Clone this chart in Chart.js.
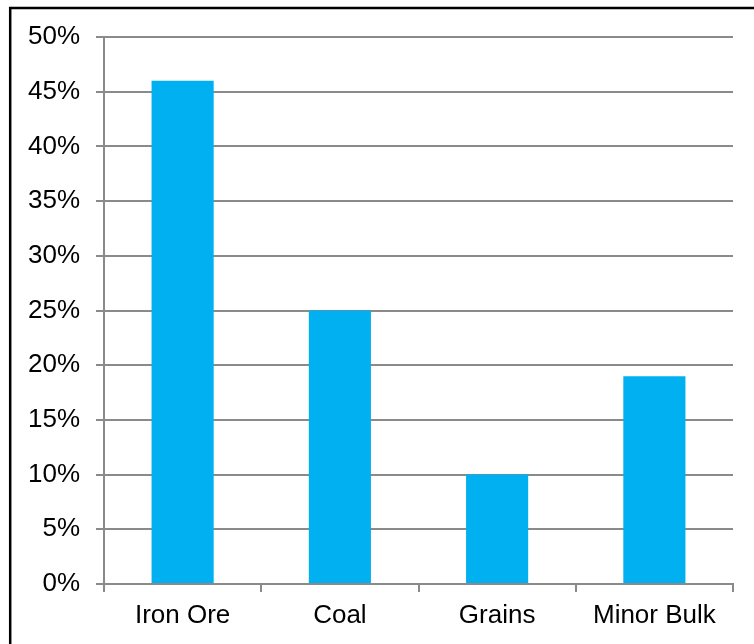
<!DOCTYPE html>
<html>
<head>
<meta charset="utf-8">
<title>Dry Bulk Cargo Share</title>
<script src="https://cdn.jsdelivr.net/npm/chart.js@4"></script>
<style>
  html, body { margin: 0; padding: 0; background: #ffffff; }
  canvas { display: block; }
</style>
</head>
<body>
<canvas id="chart" width="754" height="644"></canvas>
<script>
// Cargo categories and their share of dry bulk trade (percent)
const categories = ['Iron Ore', 'Coal', 'Grains', 'Minor Bulk'];
const shareValues = [46, 25, 10, 19];
const yTickStep = 5;
const yMax = 50;

const FONT = '"Liberation Sans", Arial, Helvetica, sans-serif';
const GRID = '#8a8a8a';

// Frame drawn around the whole chart, running off the right and bottom edges
const framePlugin = {
  id: 'frame',
  beforeDraw(chart) {
    const ctx = chart.ctx;
    ctx.save();
    ctx.fillStyle = '#ffffff';
    ctx.fillRect(0, 0, chart.width, chart.height);
    ctx.restore();
  },
  afterDraw(chart) {
    const ctx = chart.ctx;
    ctx.save();
    ctx.strokeStyle = '#000000';
    ctx.lineWidth = 2.5;
    ctx.strokeRect(10.2, 8, chart.width + 50, chart.height + 50);
    ctx.restore();
  }
};

new Chart(document.getElementById('chart'), {
  type: 'bar',
  data: {
    labels: categories,
    datasets: [{
      data: shareValues,
      backgroundColor: '#00B0F0',
      borderWidth: 0,
      barPercentage: 0.395,
      categoryPercentage: 1.0
    }]
  },
  options: {
    responsive: false,
    animation: false,
    devicePixelRatio: 1,
    layout: { padding: { top: 37, right: 21, bottom: 0, left: 0 } },
    plugins: {
      legend: { display: false },
      tooltip: { enabled: false }
    },
    scales: {
      x: {
        type: 'category',
        offset: true,
        grid: {
          offset: true,
          drawOnChartArea: false,
          drawTicks: true,
          tickLength: 8,
          color: GRID,
          lineWidth: 2
        },
        border: { display: true, color: GRID, width: 2 },
        ticks: {
          color: '#000000',
          padding: 8,
          maxRotation: 0,
          font: { family: FONT, size: 26 }
        },
        afterFit(scale) { scale.height = 60; }
      },
      y: {
        min: 0,
        max: yMax,
        grid: {
          color: GRID,
          lineWidth: 2,
          drawTicks: true,
          tickLength: 8
        },
        border: { display: true, color: GRID, width: 2 },
        ticks: {
          stepSize: yTickStep,
          color: '#000000',
          padding: 16,
          font: { family: FONT, size: 26 },
          callback: (v) => v + '%'
        },
        afterFit(scale) { scale.width = 104; }
      }
    }
  },
  plugins: [framePlugin]
});
</script>
</body>
</html>
